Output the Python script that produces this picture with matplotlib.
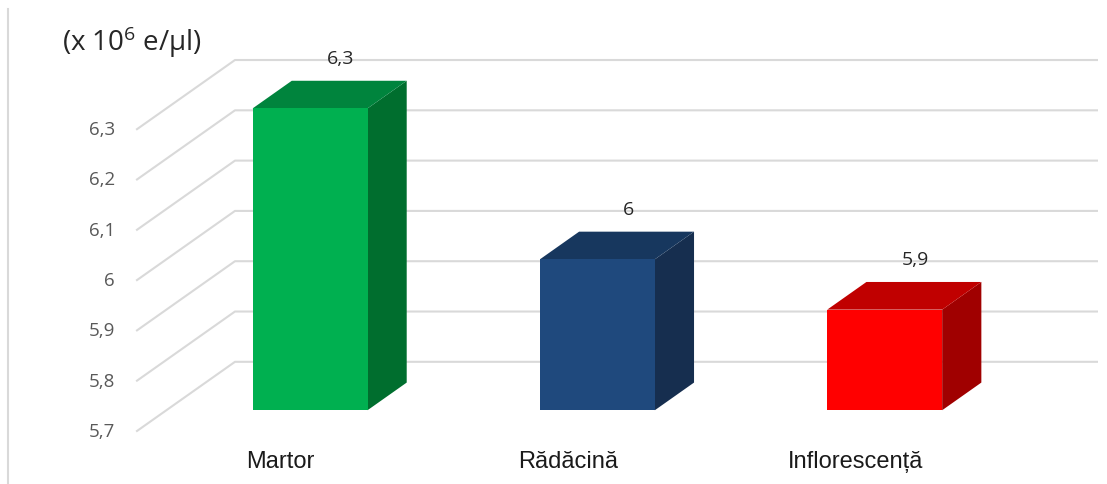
import numpy as np
import matplotlib
matplotlib.use("Agg")
import matplotlib.pyplot as plt
from matplotlib.patches import Polygon

categories = ["Martor", "Rădăcină", "Inflorescență"]
values = [6.3, 6.0, 5.9]
value_labels = ["6,3", "6", "5,9"]
ticks = [5.7, 5.8, 5.9, 6.0, 6.1, 6.2, 6.3]
tick_labels = ["5,7", "5,8", "5,9", "6", "6,1", "6,2", "6,3"]
front_colors = ["#00B050", "#1F497D", "#FF0000"]
top_colors = ["#00843D", "#17375E", "#C00000"]
side_colors = ["#006E2E", "#162E4F", "#A00000"]

plt.rcParams['mathtext.fontset'] = 'custom'
plt.rcParams['mathtext.rm'] = 'Open Sans'
plt.rcParams['mathtext.it'] = 'Open Sans'
txt_font = ['Open Sans', 'DejaVu Sans']

base = 5.7
# depth offset (in data units) for going from the front plane to the back wall
ddx = 0.341
ddy = 0.1375
d0, d1 = 0.3, 0.7   # bar front / back depth
bw = 0.40

fig = plt.figure(figsize=(11.07, 4.85), dpi=100)
ax = fig.add_axes([0, 0, 1, 1])
ax.set_xlim(-0.9768, 2.876)
ax.set_ylim(5.5946, 6.5588)
ax.axis('off')

grid_c = "#D9D9D9"
x0, x1 = -0.5, 2.5
for v, lab in zip(ticks, tick_labels):
	ax.plot([x0, x0 + ddx, x1 + ddx], [v, v + ddy, v + ddy], color=grid_c, lw=1.5, zorder=1)
	ax.text(x0 - 0.077, v, lab, ha='right', va='center', fontsize=13.5,
	        color="#595959", family=txt_font)

for i, (v, lab) in enumerate(zip(values, value_labels)):
	l = i - bw / 2
	r = i + bw / 2
	fl, fr = l + d0 * ddx, r + d0 * ddx
	bl, br = l + d1 * ddx, r + d1 * ddx
	yb0, yb1 = base + d0 * ddy, base + d1 * ddy
	yt0, yt1 = v + d0 * ddy, v + d1 * ddy
	side = Polygon([(fr, yb0), (br, yb1), (br, yt1), (fr, yt0)], closed=True,
	               facecolor=side_colors[i], edgecolor='none', zorder=3)
	top = Polygon([(fl, yt0), (fr, yt0), (br, yt1), (bl, yt1)], closed=True,
	              facecolor=top_colors[i], edgecolor='none', zorder=3)
	front = Polygon([(fl, yb0), (fr, yb0), (fr, yt0), (fl, yt0)], closed=True,
	                facecolor=front_colors[i], edgecolor='none', zorder=4)
	ax.add_patch(side)
	ax.add_patch(top)
	ax.add_patch(front)
	ax.text(i + 0.21, yt1 + 0.045, lab, ha='center', va='center', fontsize=14,
	        color="#262626", family=txt_font)
	ax.text(i, 5.640, categories[i], ha='center', va='center', fontsize=17,
	        color="#1A1A1A", family=['Liberation Sans', 'DejaVu Sans'])

ax.text(-0.761, 6.475, r"(x 10$^{6}$ e/μl)", ha='left', va='center', fontsize=20,
        color="#262626", family=txt_font)

# chart border on the left
ax.axvline(-0.949, ymin=0, ymax=0.979, color=grid_c, lw=1.5)

plt.savefig("out.png", dpi=100)
plt.close()
